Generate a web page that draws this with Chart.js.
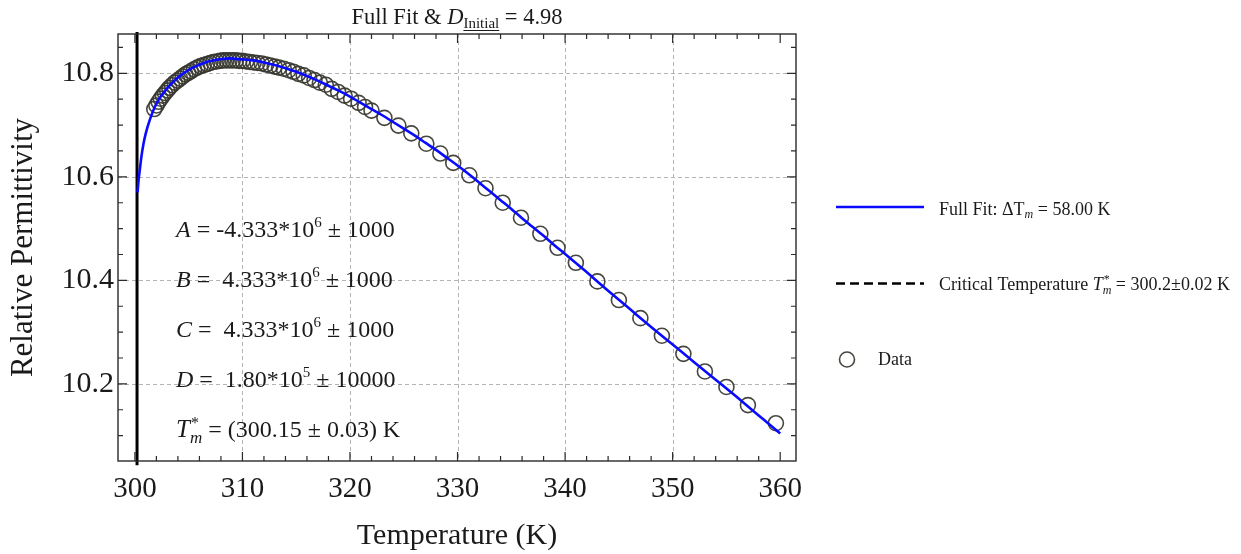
<!DOCTYPE html>
<html>
<head>
<meta charset="utf-8">
<script src="https://cdn.jsdelivr.net/npm/chart.js@4.4.1/dist/chart.umd.min.js"></script>
<style>
  html, body { margin: 0; padding: 0; background: #ffffff; }
  #wrap { width: 1241px; height: 554px; position: relative; }
</style>
</head>
<body>
<div id="wrap"><canvas id="c" width="1241" height="554"></canvas></div>
<script>
// Fitted permittivity curve (temperature in K, relative permittivity)
const fitT = [300.25, 300.35, 300.45, 300.6, 300.8, 301.0, 301.4, 301.85, 302.3, 302.8,
  303.3, 303.8, 304.3, 304.8, 305.3, 305.8, 306.3, 306.8, 307.3, 307.8,
  308.3, 308.8, 309.3, 310, 311, 312, 313, 314, 315, 316,
  317, 318, 319, 320, 321, 322, 323, 324, 325, 326,
  327, 328, 329, 330, 331, 332, 333, 334, 335, 336,
  337, 338, 339, 340, 342, 344, 346, 348, 350, 352,
  354, 356, 358, 360];
const fitEps = [10.570, 10.595, 10.612, 10.638, 10.664, 10.683, 10.711, 10.735, 10.752, 10.766,
  10.778, 10.788, 10.797, 10.804, 10.810, 10.815, 10.819, 10.823, 10.825, 10.827,
  10.828, 10.829, 10.828, 10.827, 10.825, 10.821, 10.816, 10.810, 10.803, 10.795,
  10.786, 10.776, 10.766, 10.755, 10.743, 10.731, 10.719, 10.706, 10.693, 10.680,
  10.666, 10.652, 10.637, 10.622, 10.606, 10.589, 10.572, 10.555, 10.538, 10.520,
  10.503, 10.486, 10.468, 10.451, 10.416, 10.380, 10.345, 10.310, 10.276, 10.242,
  10.208, 10.174, 10.139, 10.104];

// Measured points
const dataT = [301.8, 302.0, 302.2, 302.4, 302.6, 302.8, 303.0, 303.2, 303.45, 303.7,
  303.95, 304.2, 304.45, 304.7, 304.95, 305.2, 305.5, 305.8, 306.1, 306.4,
  306.7, 307.0, 307.3, 307.6, 307.9, 308.2, 308.5, 308.8, 309.1, 309.4,
  309.7, 310.0, 310.35, 310.7, 311.05, 311.4, 311.8, 312.2, 312.6, 313.0,
  313.4, 313.85, 314.3, 314.75, 315.2, 315.7, 316.2, 316.7, 317.2, 317.75,
  318.3, 318.9, 319.5, 320.1, 320.8, 321.4, 322.0, 323.2, 324.5, 325.7,
  327.1, 328.4, 329.6, 331.1, 332.6, 334.2, 335.9, 337.7, 339.3, 341.0,
  343.0, 345.0, 347.0, 349.0, 351.0, 353.0, 355.0, 357.0, 359.6];
const dataEps = [10.731, 10.738, 10.745, 10.751, 10.757, 10.762, 10.767, 10.772, 10.777, 10.782,
  10.786, 10.790, 10.794, 10.798, 10.801, 10.804, 10.808, 10.811, 10.814, 10.816,
  10.818, 10.820, 10.822, 10.823, 10.824, 10.825, 10.825, 10.825, 10.825, 10.825,
  10.824, 10.824, 10.823, 10.822, 10.821, 10.820, 10.819, 10.817, 10.815, 10.813,
  10.811, 10.809, 10.806, 10.803, 10.799, 10.796, 10.791, 10.787, 10.782, 10.778,
  10.770, 10.764, 10.757, 10.751, 10.743, 10.735, 10.728, 10.714, 10.699, 10.684,
  10.664, 10.645, 10.627, 10.603, 10.578, 10.550, 10.521, 10.490, 10.463, 10.434,
  10.398, 10.362, 10.327, 10.293, 10.258, 10.224, 10.194, 10.159, 10.124];

// Critical temperature marker
const criticalT = 300.2;

// Axes
const xTickValues = [300, 310, 320, 330, 340, 350, 360];
const xGridValues = [310, 320, 330, 340, 350];
const yTickValues = [10.2, 10.4, 10.6, 10.8];
const xLimits = [298.43, 361.47];
const yLimits = [10.051, 10.876];
const xMinorStep = 2;
const yMinorStep = 0.05;

const SERIF = '"Liberation Serif", "Times New Roman", serif';
const INK = '#1a1a1a';

function fontOf(s) {
  return (s.i ? 'italic ' : '') + s.size + 'px ' + SERIF;
}
function richWidth(ctx, segs) {
  let w = 0;
  for (const s of segs) {
    ctx.font = fontOf(s);
    if (!s.stack) w += ctx.measureText(s.t).width + (s.dx || 0);
  }
  return w;
}
function drawRich(ctx, x, y, segs) {
  for (const s of segs) {
    ctx.font = fontOf(s);
    const w = ctx.measureText(s.t).width;
    ctx.fillText(s.t, x + (s.ox || 0), y + (s.dy || 0));
    if (s.u) {
      ctx.fillRect(x, y + (s.dy || 0) + 2, w, 1);
    }
    if (!s.stack) x += w + (s.dx || 0);
  }
}

// Dashed grid behind the data
const gridPlugin = {
  id: 'dashGrid',
  beforeDatasetsDraw(chart) {
    const { ctx, chartArea: a, scales: { x, y } } = chart;
    ctx.save();
    ctx.strokeStyle = '#b4b4b4';
    ctx.lineWidth = 1;
    ctx.setLineDash([4, 3]);
    for (const v of xGridValues) {
      const px = Math.round(x.getPixelForValue(v)) + 0.5;
      ctx.beginPath(); ctx.moveTo(px, a.top); ctx.lineTo(px, a.bottom); ctx.stroke();
    }
    for (const v of yTickValues) {
      const py = Math.round(y.getPixelForValue(v)) + 0.5;
      ctx.beginPath(); ctx.moveTo(a.left, py); ctx.lineTo(a.right, py); ctx.stroke();
    }
    ctx.restore();
  }
};

// Frame with inward ticks, annotations, title and legend
const framePlugin = {
  id: 'frameAndText',
  afterDatasetsDraw(chart) {
    const { ctx, chartArea: a, scales: { x, y } } = chart;
    ctx.save();
    ctx.strokeStyle = '#2a2a2a';
    ctx.lineWidth = 1.4;
    ctx.strokeRect(a.left, a.top, a.right - a.left, a.bottom - a.top);
    ctx.lineWidth = 1.2;
    const major = 9, minor = 5;
    for (let v = 300; v <= 361; v += xMinorStep) {
      const px = x.getPixelForValue(v);
      const len = (v % 10 === 0) ? major : minor;
      ctx.beginPath();
      ctx.moveTo(px, a.bottom); ctx.lineTo(px, a.bottom - len);
      ctx.moveTo(px, a.top); ctx.lineTo(px, a.top + len);
      ctx.stroke();
    }
    for (let k = 0; k * yMinorStep + 10.1 <= 10.86; k++) {
      const v = 10.1 + k * yMinorStep;
      const py = y.getPixelForValue(v);
      const isMajor = k % 4 === 2;
      const len = isMajor ? major : minor;
      ctx.beginPath();
      ctx.moveTo(a.left, py); ctx.lineTo(a.left + len, py);
      ctx.moveTo(a.right, py); ctx.lineTo(a.right - len, py);
      ctx.stroke();
    }
    ctx.restore();
  },
  afterDraw(chart) {
    const { ctx } = chart;
    ctx.save();
    ctx.fillStyle = INK;
    ctx.textBaseline = 'alphabetic';
    ctx.textAlign = 'left';

    // Title
    const T = 22.5;
    const title = [
      { t: 'Full Fit & ', size: T },
      { t: 'D', size: T, i: true },
      { t: 'Initial', size: 15, dy: 4, u: true },
      { t: ' = 4.98', size: T }
    ];
    const tw = richWidth(ctx, title);
    const cx = (chart.chartArea.left + chart.chartArea.right) / 2;
    drawRich(ctx, cx - tw / 2, 24, title);

    // Fit parameters
    const F = 24, S = 15;
    const lx = 176;
    drawRich(ctx, lx, 237, [
      { t: 'A', size: F, i: true }, { t: ' = -4.333*10', size: F },
      { t: '6', size: S, dy: -10 }, { t: ' \u00b1 1000', size: F }]);
    drawRich(ctx, lx, 287, [
      { t: 'B', size: F, i: true }, { t: ' =  4.333*10', size: F },
      { t: '6', size: S, dy: -10 }, { t: ' \u00b1 1000', size: F }]);
    drawRich(ctx, lx, 337, [
      { t: 'C', size: F, i: true }, { t: ' =  4.333*10', size: F },
      { t: '6', size: S, dy: -10 }, { t: ' \u00b1 1000', size: F }]);
    drawRich(ctx, lx, 387, [
      { t: 'D', size: F, i: true }, { t: ' =  1.80*10', size: F },
      { t: '5', size: S, dy: -10 }, { t: ' \u00b1 10000', size: F }]);
    drawRich(ctx, lx, 437, [
      { t: 'T', size: F + 1, i: true },
      { t: '*', size: S + 1, dy: -9, ox: 1, stack: true },
      { t: 'm', size: S + 2, i: true, dy: 6 },
      { t: ' = (300.15 \u00b1 0.03) K', size: F }]);

    // Legend
    const ds = chart.data.datasets;
    const L = 18;
    ctx.lineWidth = ds[0].borderWidth;
    ctx.strokeStyle = ds[0].borderColor;
    ctx.beginPath(); ctx.moveTo(836, 207); ctx.lineTo(924, 207); ctx.stroke();
    drawRich(ctx, 939, 215, [
      { t: 'Full Fit: \u0394T', size: L },
      { t: 'm', size: 12, i: true, dy: 3 },
      { t: ' = 58.00 K', size: L }]);

    ctx.strokeStyle = ds[1].borderColor;
    ctx.lineWidth = 2.6;
    ctx.setLineDash([9, 5]);
    ctx.beginPath(); ctx.moveTo(836, 283.5); ctx.lineTo(924, 283.5); ctx.stroke();
    ctx.setLineDash([]);
    drawRich(ctx, 939, 290, [
      { t: 'Critical Temperature ', size: L },
      { t: 'T', size: L, i: true },
      { t: '*', size: 12, dy: -7, ox: 1, stack: true },
      { t: 'm', size: 12, i: true, dy: 4 },
      { t: ' = 300.2\u00b10.02 K', size: L }]);

    ctx.strokeStyle = ds[2].borderColor;
    ctx.lineWidth = ds[2].borderWidth;
    ctx.beginPath(); ctx.arc(847, 359.5, ds[2].pointRadius, 0, Math.PI * 2); ctx.stroke();
    drawRich(ctx, 878, 365, [{ t: 'Data', size: L }]);
    ctx.restore();
  }
};

const fitPoints = fitT.map((t, i) => ({ x: t, y: fitEps[i] }));
const dataPoints = dataT.map((t, i) => ({ x: t, y: dataEps[i] }));
const criticalPoints = [{ x: criticalT, y: yLimits[0] - 0.008 }, { x: criticalT, y: yLimits[1] + 0.004 }];

new Chart(document.getElementById('c'), {
  type: 'scatter',
  data: {
    datasets: [
      {
        label: 'Full Fit',
        data: fitPoints,
        showLine: true,
        borderColor: '#0a0aff',
        borderWidth: 2.6,
        pointRadius: 0,
        cubicInterpolationMode: 'monotone',
        fill: false
      },
      {
        label: 'Critical Temperature',
        data: criticalPoints,
        showLine: true,
        borderColor: '#000000',
        borderWidth: 3,
        pointRadius: 0,
        clip: false
      },
      {
        label: 'Data',
        data: dataPoints,
        showLine: false,
        pointStyle: 'circle',
        pointRadius: 7.5,
        borderWidth: 1.6,
        borderColor: 'rgba(55,55,48,0.92)',
        backgroundColor: 'rgba(0,0,0,0)'
      }
    ]
  },
  options: {
    responsive: false,
    animation: false,
    devicePixelRatio: 1,
    layout: { padding: { left: 0, right: 445, top: 34, bottom: 0 } },
    plugins: { legend: { display: false }, tooltip: { enabled: false }, title: { display: false } },
    scales: {
      x: {
        type: 'linear',
        min: xLimits[0],
        max: xLimits[1],
        afterBuildTicks: s => { s.ticks = xTickValues.map(v => ({ value: v })); },
        afterFit: s => { s.height = 93; },
        grid: { display: false, drawTicks: false },
        border: { display: false },
        ticks: {
          color: INK,
          font: { family: SERIF, size: 29 },
          padding: 11,
          maxRotation: 0,
          autoSkip: false,
          callback: v => String(v)
        },
        title: {
          display: true,
          text: 'Temperature (K)',
          color: INK,
          font: { family: SERIF, size: 30, lineHeight: 1.2 },
          padding: { top: 0, bottom: 0 }
        }
      },
      y: {
        type: 'linear',
        min: yLimits[0],
        max: yLimits[1],
        afterBuildTicks: s => { s.ticks = yTickValues.map(v => ({ value: v })); },
        afterFit: s => { s.width = 118; },
        grid: { display: false, drawTicks: false },
        border: { display: false },
        ticks: {
          color: INK,
          font: { family: SERIF, size: 30 },
          padding: 4,
          autoSkip: false,
          callback: v => v.toFixed(1)
        },
        title: {
          display: true,
          text: 'Relative Permittivity',
          color: INK,
          font: { family: SERIF, size: 31, lineHeight: 1.2 },
          padding: { top: 5, bottom: 0 }
        }
      }
    }
  },
  plugins: [gridPlugin, framePlugin]
});
</script>
</body>
</html>
